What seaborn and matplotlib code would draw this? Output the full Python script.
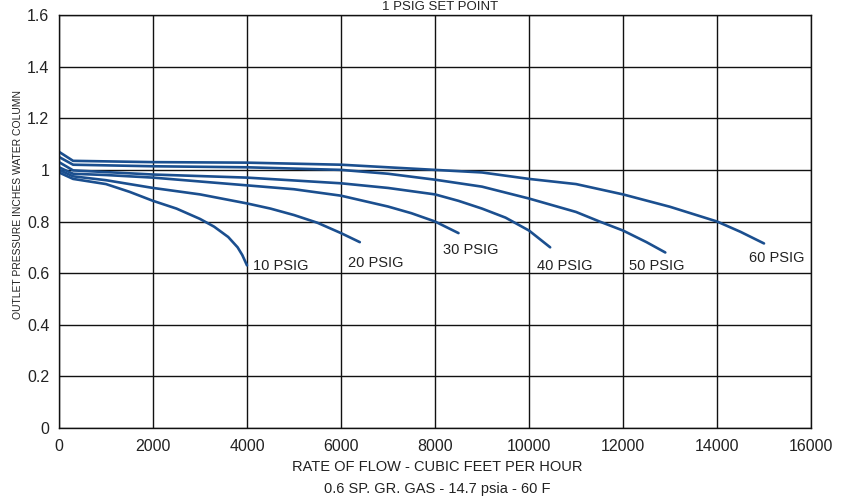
import numpy as np
import pandas as pd
import matplotlib
matplotlib.use("Agg")
import matplotlib.pyplot as plt
import seaborn as sns

# curves (flow in CFH, outlet pressure in inches w.c.)
flow_10 = [0, 300, 1000, 1500, 2000, 2500, 3000, 3300, 3600, 3800, 3900, 4000]
press_10 = [0.99, 0.965, 0.945, 0.915, 0.88, 0.85, 0.81, 0.78, 0.74, 0.70, 0.67, 0.63]

flow_20 = [0, 300, 1000, 2000, 3000, 4000, 4500, 5000, 5500, 6000, 6400]
press_20 = [1.0, 0.975, 0.96, 0.93, 0.905, 0.87, 0.85, 0.825, 0.795, 0.755, 0.72]

flow_30 = [0, 300, 1000, 2000, 4000, 5000, 6000, 7000, 7500, 8000, 8500]
press_30 = [1.01, 0.985, 0.98, 0.97, 0.94, 0.925, 0.90, 0.858, 0.832, 0.80, 0.755]

flow_40 = [0, 300, 2000, 4000, 6000, 7000, 8000, 8500, 9000, 9500, 10000, 10450]
press_40 = [1.03, 0.998, 0.982, 0.97, 0.948, 0.93, 0.905, 0.88, 0.85, 0.815, 0.765, 0.70]

flow_50 = [0, 300, 2000, 4000, 6000, 7000, 8000, 9000, 10000, 11000, 11500, 12000, 12500, 12900]
press_50 = [1.05, 1.02, 1.014, 1.01, 1.0, 0.985, 0.962, 0.935, 0.889, 0.837, 0.80, 0.765, 0.72, 0.68]

flow_60 = [0, 300, 2000, 4000, 6000, 8000, 9000, 10000, 11000, 12000, 13000, 14000, 14500, 15000]
press_60 = [1.07, 1.035, 1.03, 1.028, 1.02, 1.0, 0.99, 0.965, 0.945, 0.905, 0.857, 0.80, 0.76, 0.715]

curve_names = ["10 PSIG", "20 PSIG", "30 PSIG", "40 PSIG", "50 PSIG", "60 PSIG"]
label_x = [4130, 6150, 8170, 10170, 12130, 14680]
label_y = [0.627, 0.64, 0.69, 0.627, 0.627, 0.66]

x_ticks = [0, 2000, 4000, 6000, 8000, 10000, 12000, 14000, 16000]
y_ticks = [0, 0.2, 0.4, 0.6, 0.8, 1, 1.2, 1.4, 1.6]
y_tick_labels = ["0", "0.2", "0.4", "0.6", "0.8", "1", "1.2", "1.4", "1.6"]

all_flows = [flow_10, flow_20, flow_30, flow_40, flow_50, flow_60]
all_press = [press_10, press_20, press_30, press_40, press_50, press_60]
df = pd.concat([
    pd.DataFrame({"flow": f, "pressure": p, "curve": n})
    for f, p, n in zip(all_flows, all_press, curve_names)
], ignore_index=True)

sns.set_style("white")
FONT = ["Liberation Sans Narrow", "Liberation Sans", "DejaVu Sans"]
plt.rcParams["font.family"] = FONT
LINE = "#1b4f8f"

fig = plt.figure(figsize=(8.48, 5.01), dpi=100)
ax = fig.add_axes([59 / 848, 1 - 428 / 501, (811 - 59) / 848, (428 - 15) / 501])

sns.lineplot(data=df, x="flow", y="pressure", units="curve", estimator=None,
             sort=False, color=LINE, linewidth=1.9, ax=ax, legend=False)

for name, lx, ly in zip(curve_names, label_x, label_y):
    ax.text(lx, ly, name, ha="left", va="center", fontsize=10.5, color="#222222")

ax.set_xlim(0, 16000)
ax.set_ylim(0, 1.6)
ax.set_xticks(x_ticks)
ax.set_xticklabels([str(t) for t in x_ticks])
ax.set_yticks(y_ticks)
ax.set_yticklabels(y_tick_labels)
ax.tick_params(axis="both", length=0, labelsize=11.5, colors="#222222")
ax.tick_params(axis="x", pad=8)
ax.tick_params(axis="y", pad=7)
ax.grid(True, color="#111111", linewidth=1.0)
for s in ax.spines.values():
    s.set_color("#111111")
    s.set_linewidth(1.0)
ax.set_xlabel("")
ax.set_ylabel("")

fig.text(18 / 848, 1 - 205 / 501, "OUTLET PRESSURE INCHES WATER COLUMN",
         rotation=90, ha="center", va="center", fontsize=7.5, color="#222222")
fig.text(437 / 848, 1 - 467 / 501, "RATE OF FLOW - CUBIC FEET PER HOUR",
         ha="center", va="center", fontsize=10.5, color="#222222")
fig.text(437 / 848, 1 - 489 / 501, "0.6 SP. GR. GAS - 14.7 psia - 60 F",
         ha="center", va="center", fontsize=10.5, color="#222222")
# title sits tight above the frame (cut off in the scan)
fig.text(440 / 848, 1 - 13 / 501, "1 PSIG SET POINT",
         ha="center", va="bottom", fontsize=9.5, color="#222222")

fig.savefig("out.png", dpi=100)
